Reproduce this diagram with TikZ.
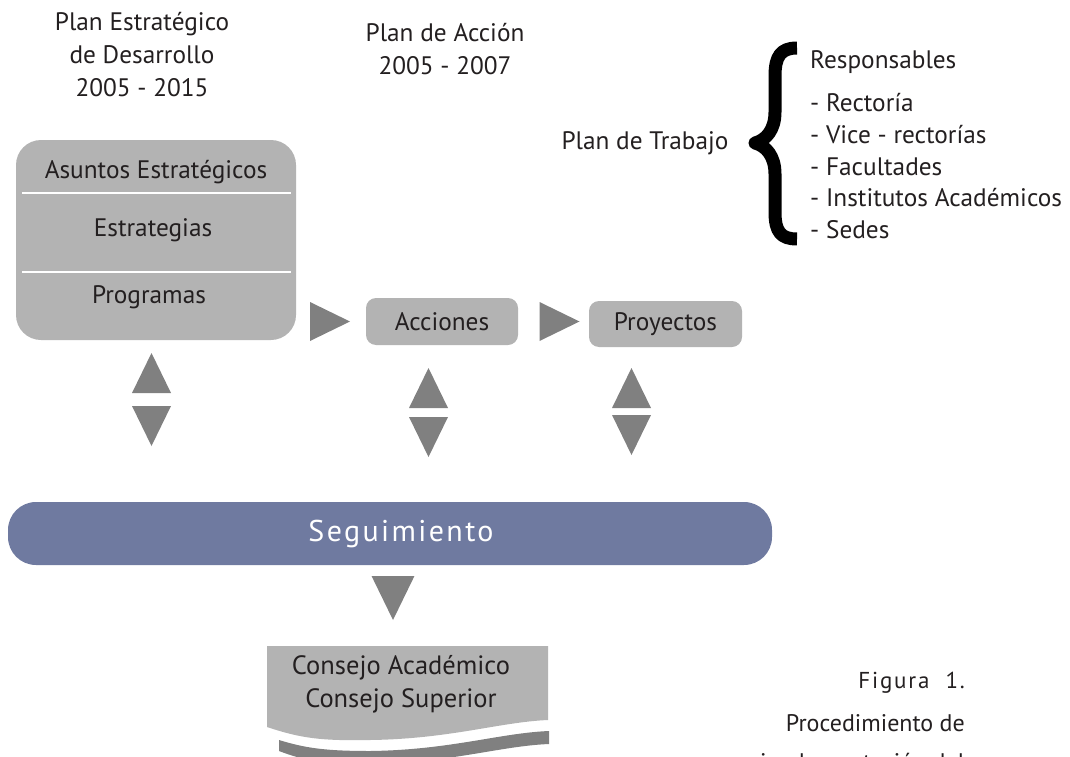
\documentclass[tikz,border=0pt]{standalone}
\usepackage{fontspec}
\setmainfont{PT Sans}
\newfontfamily\spacedfont[LetterSpace=8]{PT Sans}
\definecolor{boxgray}{HTML}{B3B3B3}
\definecolor{trigray}{HTML}{808080}
\definecolor{segblue}{HTML}{6F7AA0}
\definecolor{ink}{HTML}{231F20}
\tikzset{
  txt/.style={text=ink, inner sep=0pt, font=\fontsize{25.3}{33}\selectfont, align=center},
  graybox/.style={fill=boxgray, inner sep=0pt, rounded corners=10pt},
  divider/.style={white, line width=2.5pt},
  triU/.pic={\fill[trigray] (-19.5,20) -- (0,-20) -- (19.5,20) -- cycle;},
  triD/.pic={\fill[trigray] (-19.5,-20) -- (19.5,-20) -- (0,20) -- cycle;},
  triR/.pic={\fill[trigray] (-20,-19.5) -- (20,0) -- (-20,19.5) -- cycle;},
}
\begin{document}
\begin{tikzpicture}[x=1pt,y=-1pt]
\useasboundingbox (0,0) rectangle (1070,757);

% headings
\node[txt] (ped) at (142,55) {Plan Estratégico\\de Desarrollo\\ 2005 - 2015};
\node[txt] (pa) at (445,49) {Plan de Acción\\2005 - 2007};
\node[txt] (pt) at (645,143) {Plan de Trabajo};

% brace
\draw[black, line width=13pt, line join=round]
  (797,48) .. controls (781,48) and (775,56) .. (775,76) -- (775,112)
  .. controls (775,130) and (766,140) .. (755,143)
  .. controls (766,146) and (775,156) .. (775,174) -- (775,212)
  .. controls (775,232) and (781,239) .. (797,239);

\node[txt, anchor=west] (resp) at (810,62) {Responsables};
\node[txt, anchor=west] (r1) at (810,103) {- Rectoría};
\node[txt, anchor=west] (r2) at (810,135) {- Vice - rectorías};
\node[txt, anchor=west] (r3) at (810,167) {- Facultades};
\node[txt, anchor=west] (r4) at (810,198) {- Institutos Académicos};
\node[txt, anchor=west] (r5) at (810,230) {- Sedes};

% big box
\node[graybox, rounded corners=25pt, minimum width=280pt, minimum height=200pt] (plan) at (156,240) {};
\draw[divider] (22,193) -- (291,193);
\draw[divider] (22,272) -- (291,272);
\node[txt] (asuntos) at (156,172) {Asuntos Estratégicos};
\node[txt] (estr) at (153,230) {Estrategias};
\node[txt] (prog) at (149,297) {Programas};

% acciones / proyectos
\node[graybox, minimum width=152pt, minimum height=47pt] (acc) at (442,321.5) {};
\node[txt] at (acc) {Acciones};
\node[graybox, minimum width=153pt, minimum height=46pt] (proy) at (665.5,324) {};
\node[txt] at (proy) {Proyectos};

\pic at (330,321.5) {triR};
\pic at (559.5,321.5) {triR};

\pic at (151.5,373) {triU};
\pic at (151.5,426) {triD};
\pic at (428.5,388) {triU};
\pic at (428.5,437) {triD};
\pic at (631.5,388) {triU};
\pic at (631.5,435) {triD};

% seguimiento
\node[fill=segblue, rounded corners=28pt, minimum width=764pt, minimum height=63pt, inner sep=0pt] (seg) at (390,533.5) {};
\node[inner sep=0pt, text=white, font=\spacedfont\fontsize{30}{34}\selectfont] at (401,534) {Seguimiento};

\pic[scale=1.1] at (393,598) {triD};

% document shape
\fill[trigray] (279,740) .. controls (305,748) and (325,751) .. (370,751)
  .. controls (450,750) and (500,733) .. (549,731) -- (549,744)
  .. controls (500,746) and (450,763) .. (370,764)
  .. controls (325,764) and (305,761) .. (279,751) -- cycle;
\fill[boxgray] (267,646) -- (548,646) -- (548,720)
  .. controls (500,722) and (450,739) .. (370,740)
  .. controls (320,741) and (300,738) .. (267,727) -- cycle;
\node[txt, font=\fontsize{26.5}{33}\selectfont] (consejo) at (401,684) {Consejo Académico\\Consejo Superior};

% caption
\node[txt, anchor=east, font=\spacedfont\fontsize{23}{30}\selectfont] (fig) at (965,683) {Figura\ \ 1.};
\node[txt, anchor=east, font=\fontsize{24}{30}\selectfont] (proc) at (965,723) {Procedimiento de};
\node[txt, anchor=east, font=\fontsize{24}{30}\selectfont] (impl) at (965,764) {implementación del};
\end{tikzpicture}
\end{document}
